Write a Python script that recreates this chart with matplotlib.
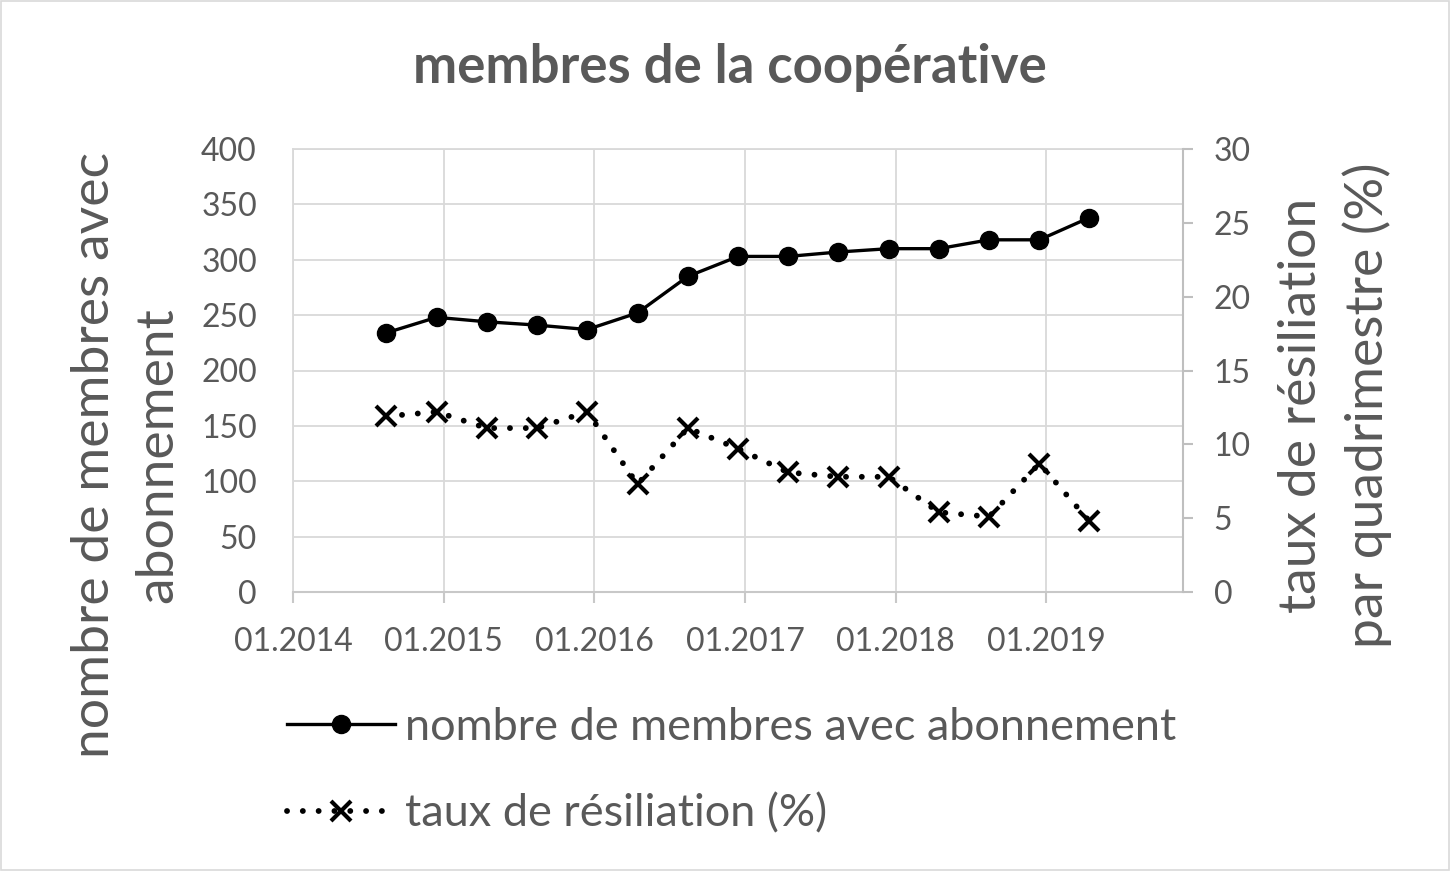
import numpy as np
import matplotlib.pyplot as plt
import matplotlib.dates as mdates
from matplotlib.patches import Rectangle
import datetime as dt

# Data (one point per quadrimestre)
dates = ["2014-08-15", "2014-12-15", "2015-04-15", "2015-08-15", "2015-12-15",
         "2016-04-15", "2016-08-15", "2016-12-15", "2017-04-15", "2017-08-15",
         "2017-12-15", "2018-04-15", "2018-08-15", "2018-12-15", "2019-04-15"]
membres = [234, 248, 244, 241, 237, 252, 285, 303, 303, 307, 310, 310, 318, 318, 338]
taux = [11.9, 12.2, 11.1, 11.1, 12.2, 7.3, 11.1, 9.7, 8.1, 7.8, 7.8, 5.4, 5.1, 8.7, 4.8]
years = [2014, 2015, 2016, 2017, 2018, 2019]

plt.rcParams['font.family'] = ['Lato', 'DejaVu Sans']
grey_txt = '#595959'
grid_c = '#d9d9d9'
W, H = 1450, 871

x = mdates.date2num([dt.datetime.strptime(d, "%Y-%m-%d") for d in dates])
xticks = mdates.date2num([dt.datetime(y, 1, 1) for y in years])

fig = plt.figure(figsize=(14.5, 8.71), dpi=100)
ax1 = fig.add_axes([293/W, 1-592/H, (1183-293)/W, (592-149)/H])
ax2 = ax1.twinx()

ax1.plot(x, membres, '-o', color='black', lw=2.4, ms=13, zorder=3,
         label='nombre de membres avec abonnement')
ax2.plot(x, taux, color='black', lw=4.2, ls=(0, (0.01, 2.7)), dash_capstyle='round',
         marker='x', ms=14, mew=3, label='taux de résiliation (%)')

ax1.set_xlim(xticks[0], mdates.date2num(dt.datetime(2019, 11, 28)))
ax1.set_ylim(0, 400)
ax2.set_ylim(0, 30)
ax1.set_yticks(np.arange(0, 401, 50))
ax2.set_yticks(np.arange(0, 31, 5))
ax1.set_xticks(xticks)
ax1.set_xticklabels(["01.%d" % y for y in years])

ax1.grid(True, color=grid_c, lw=1.3)
ax1.set_axisbelow(True)
for s in ['left', 'top']:
    ax1.spines[s].set_color(grid_c)
    ax1.spines[s].set_linewidth(1.3)
ax1.spines['bottom'].set_color('#c8c8c8')
ax1.spines['bottom'].set_linewidth(1.5)
for s in ['left', 'top', 'bottom']:
    ax2.spines[s].set_visible(False)
ax1.spines['right'].set_visible(False)
ax2.spines['right'].set_color('#bfbfbf')
ax2.spines['right'].set_linewidth(1.5)

ax1.tick_params(axis='y', length=0, pad=26, labelsize=23, labelcolor=grey_txt)
ax1.tick_params(axis='x', length=8, width=1.5, color='#c8c8c8', pad=17,
                labelsize=23, labelcolor=grey_txt)
ax2.tick_params(axis='y', length=7, width=1.5, color='#bfbfbf', pad=15,
                labelsize=23, labelcolor=grey_txt)

fig.text(126/W, 1-455/H, 'nombre de membres avec\nabonnement', fontsize=38.5,
         color=grey_txt, rotation=90, ha='center', va='center',
         multialignment='center', linespacing=1.42)
fig.text(1335/W, 1-405/H, 'taux de résiliation\npar quadrimestre (%)', fontsize=38.5,
         color=grey_txt, rotation=90, ha='center', va='center',
         multialignment='center', linespacing=1.42)

fig.suptitle('membres de la coopérative', fontsize=38, fontweight='bold',
             color=grey_txt, x=730/W, y=1-68/H, va='center')

h1, l1 = ax1.get_legend_handles_labels()
h2, l2 = ax2.get_legend_handles_labels()
fig.legend(h1 + h2, l1 + l2, loc='upper left', bbox_to_anchor=(287/W, 1-707/H),
           frameon=False, fontsize=32.5, labelcolor=grey_txt, handlelength=2.4,
           handletextpad=0.22, labelspacing=1.0, borderpad=0, borderaxespad=0)

fig.patches.append(Rectangle((0.001, 0.001), 0.998, 0.998, transform=fig.transFigure,
                             fill=False, edgecolor=grid_c, lw=1.2))

fig.savefig('out.png', dpi=100)
